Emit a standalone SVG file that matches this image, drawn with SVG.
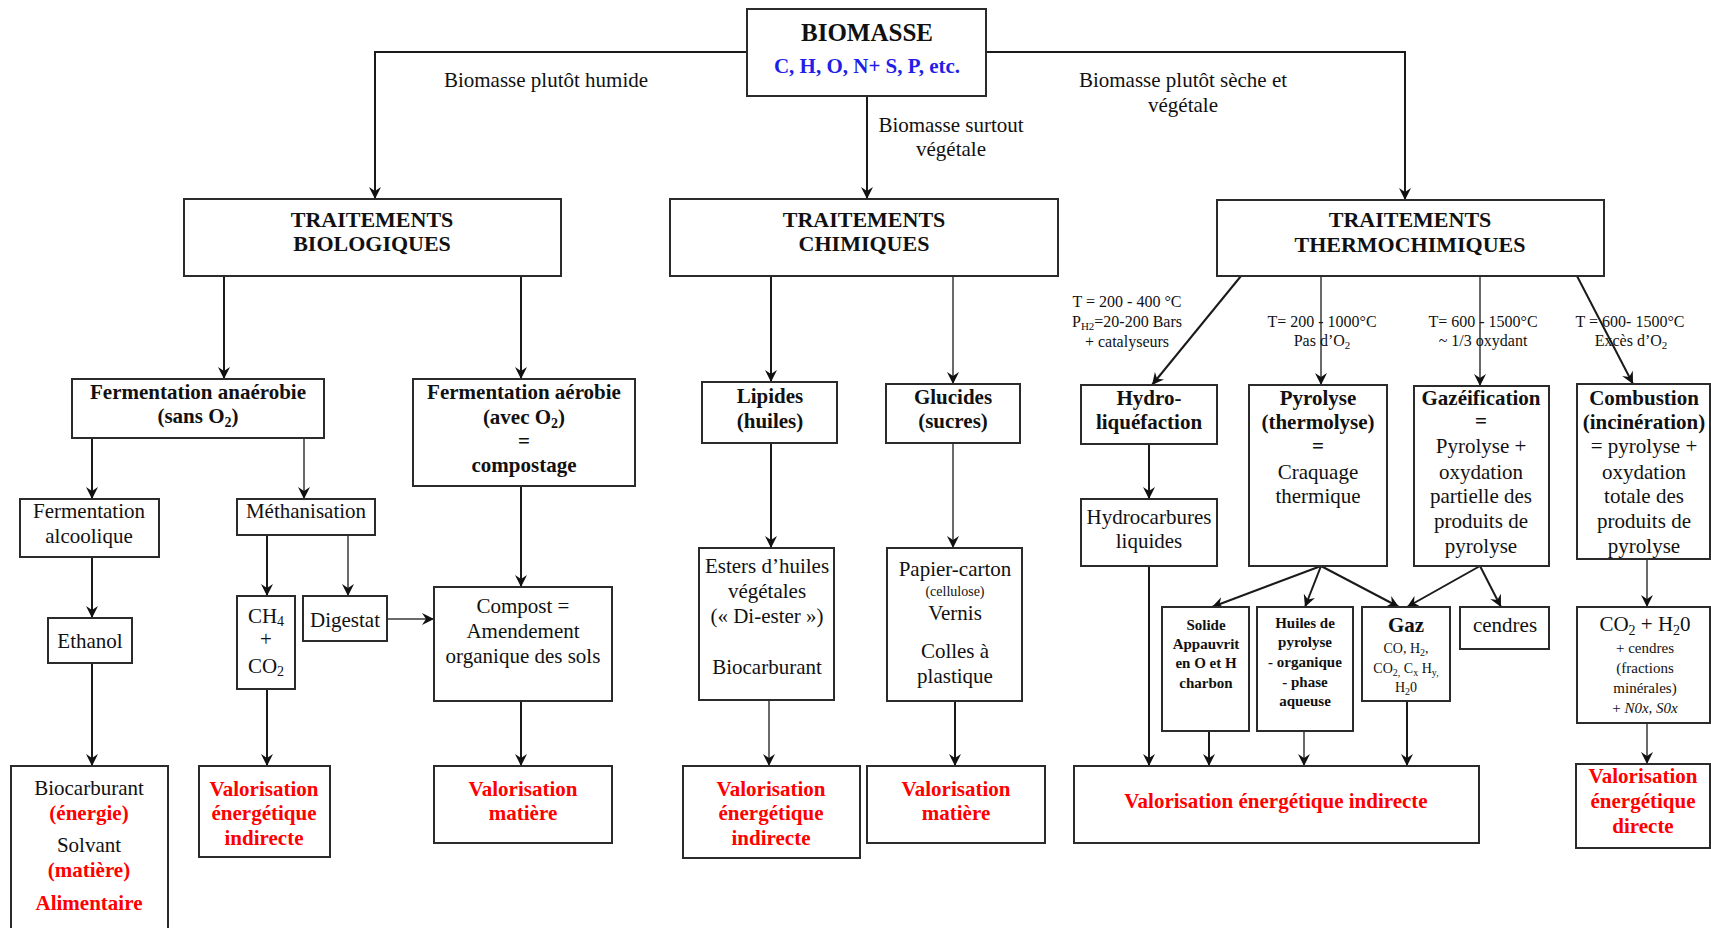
<svg xmlns="http://www.w3.org/2000/svg" width="1711" height="928" viewBox="0 0 1711 928">
<style>
.bg{fill:#fff}
.box{fill:#fff;stroke:#2b2b2b;stroke-width:2}
.c{fill:none;stroke:#1a1a1a;stroke-width:2}
.g{fill:none;stroke:#6a6a6a;stroke-width:2}
text{font-family:"Liberation Serif","Times New Roman",serif;font-size:21px;fill:#111;text-anchor:middle}
.b{font-weight:bold}
.red{fill:#ff0000;font-weight:bold}
.blue{fill:#1f1fe6;font-weight:bold}
.s{font-size:15px}
.lab{font-size:16px}
.xs{font-size:14px}
.h1{font-size:25px;font-weight:bold}
.h2{font-size:22px;font-weight:bold}
</style>
<defs>
<marker id="ah" viewBox="0 0 12 12" markerWidth="12" markerHeight="12" refX="12" refY="6" orient="auto" markerUnits="userSpaceOnUse">
<path d="M0,0 L12,6 L0,12 L4,6 z" fill="#111"/>
</marker>
</defs>
<rect class="bg" x="0" y="0" width="1711" height="928"/>

<g id="connectors">
<path class="c" d="M747,52 H375 V199" marker-end="url(#ah)"/>
<path class="c" d="M867,96 V199" marker-end="url(#ah)"/>
<path class="c" d="M986,52 H1405 V200" marker-end="url(#ah)"/>
<path class="c" d="M224,276 V379" marker-end="url(#ah)"/>
<path class="c" d="M521,276 V379" marker-end="url(#ah)"/>
<path class="c" d="M92,438 V499" marker-end="url(#ah)"/>
<path class="g" d="M304,438 V499" marker-end="url(#ah)"/>
<path class="c" d="M92,557 V618" marker-end="url(#ah)"/>
<path class="c" d="M267,535 V596" marker-end="url(#ah)"/>
<path class="g" d="M348,535 V596" marker-end="url(#ah)"/>
<path class="g" d="M387,619 H434" marker-end="url(#ah)"/>
<path class="c" d="M92,663 V766" marker-end="url(#ah)"/>
<path class="c" d="M267,689 V766" marker-end="url(#ah)"/>
<path class="c" d="M521,486 V587" marker-end="url(#ah)"/>
<path class="c" d="M521,701 V766" marker-end="url(#ah)"/>
<path class="c" d="M771,276 V382" marker-end="url(#ah)"/>
<path class="g" d="M953,276 V384" marker-end="url(#ah)"/>
<path class="c" d="M771,443 V548" marker-end="url(#ah)"/>
<path class="g" d="M953,443 V548" marker-end="url(#ah)"/>
<path class="g" d="M769,700 V766" marker-end="url(#ah)"/>
<path class="c" d="M955,701 V766" marker-end="url(#ah)"/>
<path class="c" d="M1241,276 L1152,385" marker-end="url(#ah)"/>
<path class="g" d="M1321,276 V385" marker-end="url(#ah)"/>
<path class="g" d="M1480,276 V386" marker-end="url(#ah)"/>
<path class="c" d="M1577,276 L1633,384" marker-end="url(#ah)"/>
<path class="c" d="M1149,444 V499" marker-end="url(#ah)"/>
<path class="c" d="M1149,566 V766" marker-end="url(#ah)"/>
<path class="c" d="M1321,566 L1212,607" marker-end="url(#ah)"/>
<path class="c" d="M1321,566 L1305,607" marker-end="url(#ah)"/>
<path class="c" d="M1321,566 L1399,607" marker-end="url(#ah)"/>
<path class="c" d="M1480,566 L1407,607" marker-end="url(#ah)"/>
<path class="c" d="M1480,566 L1501,607" marker-end="url(#ah)"/>
<path class="g" d="M1647,559 V607" marker-end="url(#ah)"/>
<path class="c" d="M1209,731 V766" marker-end="url(#ah)"/>
<path class="g" d="M1304,731 V766" marker-end="url(#ah)"/>
<path class="c" d="M1407,701 V766" marker-end="url(#ah)"/>
<path class="g" d="M1647,723 V764" marker-end="url(#ah)"/>
</g>

<g id="labels">
<text x="546" y="87">Biomasse plutôt humide</text>
<text x="951" y="132">Biomasse surtout</text>
<text x="951" y="156">végétale</text>
<text x="1183" y="87">Biomasse plutôt sèche et</text>
<text x="1183" y="112">végétale</text>
<text class="lab" x="1127" y="307">T = 200 - 400 °C</text>
<text class="lab" x="1127" y="327">P<tspan font-size="11" dy="3">H2</tspan><tspan dy="-3">=20-200 Bars</tspan></text>
<text class="lab" x="1127" y="347">+ catalyseurs</text>
<text class="lab" x="1322" y="327">T= 200 - 1000°C</text>
<text class="lab" x="1322" y="346">Pas d’O<tspan font-size="11" dy="3">2</tspan></text>
<text class="lab" x="1483" y="327">T= 600 - 1500°C</text>
<text class="lab" x="1483" y="346">~ 1/3 oxydant</text>
<text class="lab" x="1630" y="327">T = 600- 1500°C</text>
<text class="lab" x="1631" y="346">Excès d’O<tspan font-size="11" dy="3">2</tspan></text>
</g>

<g id="biomasse">
<rect class="box" x="747" y="9" width="239" height="87"/>
<text class="h1" x="867" y="41">BIOMASSE</text>
<text class="blue" x="867" y="73">C, H, O, N+ S, P, etc.</text>
</g>

<g id="trait-bio">
<rect class="box" x="184" y="199" width="377" height="77"/>
<text class="h2" x="372" y="227">TRAITEMENTS</text>
<text class="h2" x="372" y="251">BIOLOGIQUES</text>
</g>
<g id="trait-chim">
<rect class="box" x="670" y="199" width="388" height="77"/>
<text class="h2" x="864" y="227">TRAITEMENTS</text>
<text class="h2" x="864" y="251">CHIMIQUES</text>
</g>
<g id="trait-thermo">
<rect class="box" x="1217" y="200" width="387" height="76"/>
<text class="h2" x="1410" y="227">TRAITEMENTS</text>
<text class="h2" x="1410" y="252">THERMOCHIMIQUES</text>
</g>

<g id="anaerobie">
<rect class="box" x="72" y="379" width="252" height="59"/>
<text class="b" x="198" y="399">Fermentation anaérobie</text>
<text class="b" x="198" y="423">(sans O<tspan font-size="14" dy="4">2</tspan><tspan dy="-4">)</tspan></text>
</g>
<g id="aerobie">
<rect class="box" x="413" y="379" width="222" height="107"/>
<text class="b" x="524" y="399">Fermentation aérobie</text>
<text class="b" x="524" y="424">(avec O<tspan font-size="14" dy="4">2</tspan><tspan dy="-4">)</tspan></text>
<text class="b" x="524" y="448">=</text>
<text class="b" x="524" y="472">compostage</text>
</g>
<g id="alcoolique">
<rect class="box" x="20" y="499" width="139" height="58"/>
<text x="89" y="518">Fermentation</text>
<text x="89" y="543">alcoolique</text>
</g>
<g id="methanisation">
<rect class="box" x="237" y="499" width="138" height="36"/>
<text x="306" y="518">Méthanisation</text>
</g>
<g id="ethanol">
<rect class="box" x="48" y="618" width="84" height="45"/>
<text x="90" y="648">Ethanol</text>
</g>
<g id="ch4">
<rect class="box" x="237" y="596" width="58" height="93"/>
<text x="266" y="623">CH<tspan font-size="14" dy="3">4</tspan></text>
<text x="266" y="646">+</text>
<text x="266" y="673">CO<tspan font-size="14" dy="3">2</tspan></text>
</g>
<g id="digestat">
<rect class="box" x="303" y="596" width="84" height="45"/>
<text x="345" y="627">Digestat</text>
</g>
<g id="compost">
<rect class="box" x="434" y="587" width="178" height="114"/>
<text x="523" y="613">Compost =</text>
<text x="523" y="638">Amendement</text>
<text x="523" y="663">organique des sols</text>
</g>
<g id="biocarburant">
<rect class="box" x="11" y="766" width="157" height="180"/>
<text x="89" y="795">Biocarburant</text>
<text class="red" x="89" y="820">(énergie)</text>
<text x="89" y="852">Solvant</text>
<text class="red" x="89" y="877">(matière)</text>
<text class="red" x="89" y="910">Alimentaire</text>
</g>
<g id="val-ind-1">
<rect class="box" x="199" y="766" width="131" height="91"/>
<text class="red" x="264" y="796">Valorisation</text>
<text class="red" x="264" y="820">énergétique</text>
<text class="red" x="264" y="845">indirecte</text>
</g>
<g id="val-mat-1">
<rect class="box" x="434" y="766" width="178" height="77"/>
<text class="red" x="523" y="796">Valorisation</text>
<text class="red" x="523" y="820">matière</text>
</g>

<g id="lipides">
<rect class="box" x="702" y="382" width="135" height="61"/>
<text class="b" x="770" y="403">Lipides</text>
<text class="b" x="770" y="428">(huiles)</text>
</g>
<g id="glucides">
<rect class="box" x="886" y="384" width="134" height="59"/>
<text class="b" x="953" y="404">Glucides</text>
<text class="b" x="953" y="428">(sucres)</text>
</g>
<g id="esters">
<rect class="box" x="699" y="548" width="135" height="152"/>
<text x="767" y="573">Esters d’huiles</text>
<text x="767" y="598">végétales</text>
<text x="767" y="623">(« Di-ester »)</text>
<text x="767" y="674">Biocarburant</text>
</g>
<g id="papier">
<rect class="box" x="887" y="548" width="135" height="153"/>
<text x="955" y="576">Papier-carton</text>
<text class="xs" x="955" y="596">(cellulose)</text>
<text x="955" y="620">Vernis</text>
<text x="955" y="658">Colles à</text>
<text x="955" y="683">plastique</text>
</g>
<g id="val-ind-2">
<rect class="box" x="683" y="766" width="177" height="92"/>
<text class="red" x="771" y="796">Valorisation</text>
<text class="red" x="771" y="820">énergétique</text>
<text class="red" x="771" y="845">indirecte</text>
</g>
<g id="val-mat-2">
<rect class="box" x="867" y="766" width="178" height="77"/>
<text class="red" x="956" y="796">Valorisation</text>
<text class="red" x="956" y="820">matière</text>
</g>

<g id="hydro">
<rect class="box" x="1081" y="385" width="136" height="59"/>
<text class="b" x="1149" y="405">Hydro-</text>
<text class="b" x="1149" y="429">liquéfaction</text>
</g>
<g id="hydrocarbures">
<rect class="box" x="1081" y="499" width="136" height="67"/>
<text x="1149" y="524">Hydrocarbures</text>
<text x="1149" y="548">liquides</text>
</g>
<g id="pyrolyse">
<rect class="box" x="1249" y="385" width="138" height="181"/>
<text class="b" x="1318" y="405">Pyrolyse</text>
<text class="b" x="1318" y="429">(thermolyse)</text>
<text class="b" x="1318" y="453">=</text>
<text x="1318" y="479">Craquage</text>
<text x="1318" y="503">thermique</text>
</g>
<g id="gazeification">
<rect class="box" x="1414" y="386" width="135" height="180"/>
<text class="b" x="1481" y="405">Gazéification</text>
<text class="b" x="1481" y="428">=</text>
<text x="1481" y="453">Pyrolyse +</text>
<text x="1481" y="479">oxydation</text>
<text x="1481" y="503">partielle des</text>
<text x="1481" y="528">produits de</text>
<text x="1481" y="553">pyrolyse</text>
</g>
<g id="combustion">
<rect class="box" x="1577" y="384" width="133" height="175"/>
<text class="b" x="1644" y="405">Combustion</text>
<text class="b" x="1644" y="429">(incinération)</text>
<text x="1644" y="453">= pyrolyse +</text>
<text x="1644" y="479">oxydation</text>
<text x="1644" y="503">totale des</text>
<text x="1644" y="528">produits de</text>
<text x="1644" y="553">pyrolyse</text>
</g>
<g id="solide">
<rect class="box" x="1162" y="607" width="87" height="124"/>
<text class="b s" x="1206" y="630">Solide</text>
<text class="b s" x="1206" y="649">Appauvrit</text>
<text class="b s" x="1206" y="668">en O et H</text>
<text class="b s" x="1206" y="688">charbon</text>
</g>
<g id="huiles">
<rect class="box" x="1257" y="607" width="96" height="124"/>
<text class="b s" x="1305" y="628">Huiles de</text>
<text class="b s" x="1305" y="647">pyrolyse</text>
<text class="b s" x="1305" y="667">- organique</text>
<text class="b s" x="1305" y="687">- phase</text>
<text class="b s" x="1305" y="706">aqueuse</text>
</g>
<g id="gaz">
<rect class="box" x="1362" y="607" width="88" height="94"/>
<text class="b" x="1406" y="632" font-size="20">Gaz</text>
<text class="xs" x="1406" y="653">CO, H<tspan font-size="10" dy="3">2</tspan><tspan dy="-3">,</tspan></text>
<text class="xs" x="1406" y="673">CO<tspan font-size="10" dy="3">2,</tspan><tspan dy="-3"> C</tspan><tspan font-size="10" dy="3">x</tspan><tspan dy="-3"> H</tspan><tspan font-size="10" dy="3">y,</tspan></text>
<text class="xs" x="1406" y="692">H<tspan font-size="10" dy="3">2</tspan><tspan dy="-3">0</tspan></text>
</g>
<g id="cendres">
<rect class="box" x="1460" y="607" width="89" height="42"/>
<text x="1505" y="632" font-size="20">cendres</text>
</g>
<g id="co2">
<rect class="box" x="1577" y="607" width="133" height="116"/>
<text x="1645" y="631">CO<tspan font-size="14" dy="4">2</tspan><tspan dy="-4"> + H</tspan><tspan font-size="14" dy="4">2</tspan><tspan dy="-4">0</tspan></text>
<text class="s" x="1645" y="653">+ cendres</text>
<text class="s" x="1645" y="673">(fractions</text>
<text class="s" x="1645" y="693">minérales)</text>
<text class="s" x="1645" y="713">+ <tspan font-style="italic">N0x, S0x</tspan></text>
</g>
<g id="val-ind-3">
<rect class="box" x="1074" y="766" width="405" height="77"/>
<text class="red" x="1276" y="808">Valorisation énergétique indirecte</text>
</g>
<g id="val-directe">
<rect class="box" x="1576" y="764" width="134" height="84"/>
<text class="red" x="1643" y="783">Valorisation</text>
<text class="red" x="1643" y="808">énergétique</text>
<text class="red" x="1643" y="833">directe</text>
</g>
</svg>
